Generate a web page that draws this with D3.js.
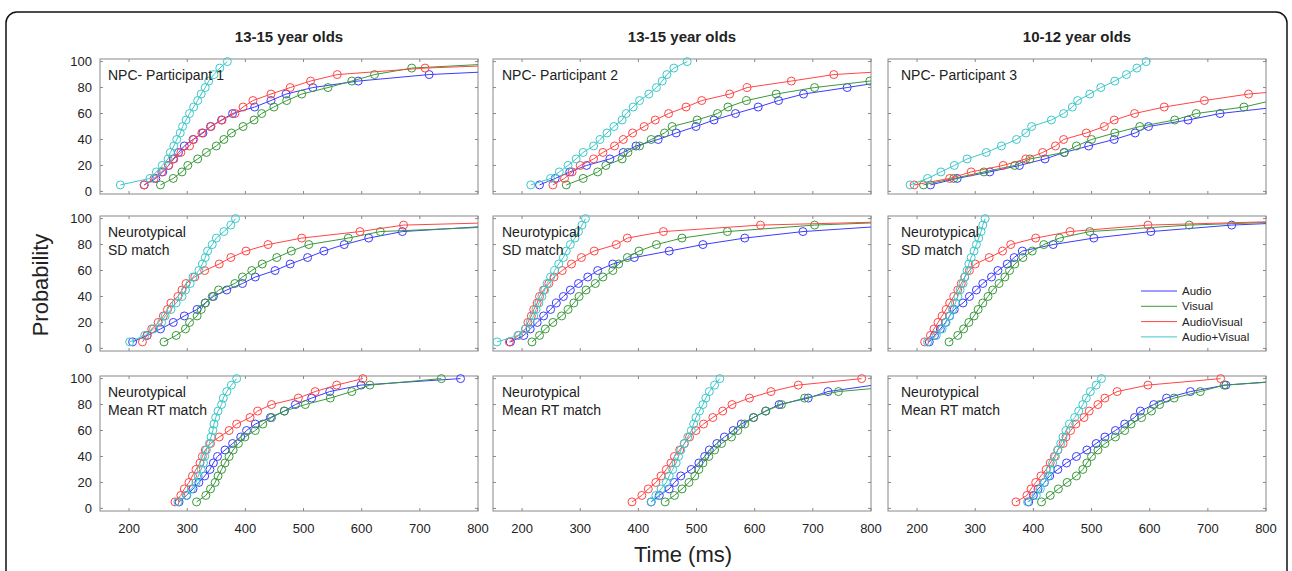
<!DOCTYPE html>
<html>
<head>
<meta charset="utf-8">
<script src="https://cdn.jsdelivr.net/npm/d3@7"></script>
<style>
  body { margin: 0; background: #fff; }
  svg text { font-family: "Liberation Sans", "Open Sans", sans-serif; fill: #222; }
</style>
</head>
<body>
<svg id="chart" width="1292" height="571"></svg>
<script>
'use strict';

// probability levels of each cumulative curve (%)
const probs = [5, 10, 15, 20, 25, 30, 35, 40, 45, 50, 55, 60, 65, 70, 75, 80, 85, 90, 95, 100];

const seriesNames = ['Audio', 'Visual', 'AudioVisual', 'Audio+Visual'];
const columnTitles = ['13-15 year olds', '13-15 year olds', '10-12 year olds'];
const rowLabels = [['NPC- Participant 1', 'NPC- Participant 2', 'NPC- Participant 3'],
                   [['Neurotypical', 'SD match']],
                   [['Neurotypical', 'Mean RT match']]];
const xTicks = [200, 300, 400, 500, 600, 700, 800];
const yTicks = [0, 20, 40, 60, 80, 100];

// RT (ms) at each probability level
// row 1 - NPC participants
const npc1Audio   = [226, 246, 258, 268, 276, 285, 295, 310, 327, 340, 359, 378, 416, 444, 470, 516, 594, 716, 950, 1200];
const npc1Visual  = [254, 276, 291, 301, 318, 333, 350, 363, 376, 396, 415, 428, 449, 471, 497, 542, 583, 622, 686, 900];
const npc1AV      = [226, 243, 256, 268, 277, 289, 304, 311, 325, 341, 360, 382, 396, 413, 444, 477, 512, 558, 709, 1000];
const npc1AplusV  = [185, 236, 247, 257, 267, 271, 277, 282, 288, 292, 298, 304, 311, 318, 324, 331, 337, 346, 356, 369];

const npc2Audio   = [230, 257, 282, 311, 351, 374, 396, 434, 465, 499, 530, 567, 606, 641, 684, 759, 830, 920, 1000, 1200];
const npc2Visual  = [276, 305, 330, 344, 372, 382, 402, 422, 445, 458, 501, 536, 554, 586, 637, 703, 798, 900, 1000, 1200];
const npc2AV      = [253, 273, 286, 300, 323, 339, 359, 374, 390, 410, 429, 452, 482, 509, 557, 587, 663, 736, 920, 1100];
const npc2AplusV  = [215, 249, 264, 279, 293, 305, 323, 334, 346, 358, 372, 379, 391, 402, 418, 431, 441, 449, 461, 484];

const npc3Audio   = [223, 269, 325, 376, 420, 453, 495, 539, 575, 598, 666, 721, 820, 900, 1000, 1100, 1200, 1300, 1400, 1500];
const npc3Visual  = [211, 263, 315, 368, 394, 453, 474, 500, 540, 583, 643, 680, 762, 810, 870, 950, 1050, 1150, 1300, 1500];
const npc3AV      = [195, 256, 293, 348, 387, 416, 438, 452, 491, 522, 539, 574, 625, 694, 770, 900, 1000, 1100, 1250, 1500];
const npc3AplusV  = [188, 218, 241, 264, 286, 319, 345, 371, 387, 397, 431, 452, 467, 476, 497, 516, 540, 560, 578, 594];

// row 2 - neurotypical, SD match
const sd1Audio    = [206, 231, 254, 276, 295, 317, 331, 345, 368, 395, 417, 451, 477, 507, 535, 570, 612, 670, 850, 1100];
const sd1Visual   = [260, 281, 297, 304, 317, 324, 331, 343, 354, 382, 395, 411, 429, 454, 479, 509, 577, 632, 900, 1150];
const sd1AV       = [223, 231, 239, 250, 259, 266, 272, 284, 291, 298, 313, 330, 355, 375, 401, 439, 497, 597, 672, 1100];
const sd1AplusV   = [201, 227, 242, 256, 262, 272, 281, 291, 297, 305, 310, 320, 326, 331, 335, 343, 350, 363, 375, 383];

const sd2Audio    = [180, 203, 214, 226, 237, 249, 259, 271, 283, 297, 313, 330, 356, 393, 453, 511, 583, 683, 850, 1100];
const sd2Visual   = [217, 230, 240, 253, 268, 279, 289, 298, 310, 326, 339, 356, 366, 381, 401, 431, 475, 553, 703, 1000];
const sd2AV       = [178, 194, 206, 210, 216, 220, 226, 230, 237, 246, 255, 269, 285, 302, 324, 362, 381, 443, 610, 1050];
const sd2AplusV   = [157, 193, 206, 214, 220, 224, 229, 234, 239, 243, 249, 256, 263, 271, 276, 283, 291, 297, 303, 309];

const sd3Audio    = [221, 230, 240, 249, 256, 264, 279, 290, 302, 313, 328, 339, 355, 367, 381, 434, 504, 602, 741, 1000];
const sd3Visual   = [255, 270, 280, 289, 298, 305, 313, 322, 330, 341, 351, 359, 368, 382, 398, 418, 445, 497, 668, 1000];
const sd3AV       = [213, 223, 229, 236, 243, 250, 256, 263, 270, 276, 282, 290, 300, 324, 347, 361, 404, 463, 597, 1000];
const sd3AplusV   = [218, 233, 243, 250, 256, 261, 266, 270, 274, 279, 282, 286, 289, 293, 298, 302, 306, 310, 313, 317];

// row 3 - neurotypical, mean RT match
const rt1Audio    = [286, 299, 310, 320, 330, 339, 345, 352, 365, 378, 392, 402, 417, 443, 467, 486, 514, 545, 599, 770];
const rt1Visual   = [316, 332, 340, 348, 353, 359, 365, 372, 379, 388, 399, 417, 430, 445, 467, 503, 546, 583, 614, 737];
const rt1AV       = [279, 289, 295, 303, 309, 315, 322, 326, 331, 340, 355, 372, 385, 408, 421, 445, 491, 520, 557, 602];
const rt1AplusV   = [284, 299, 307, 315, 319, 324, 328, 330, 333, 338, 341, 344, 346, 349, 353, 359, 362, 368, 376, 385];

const rt2Audio    = [422, 436, 453, 462, 473, 491, 504, 514, 522, 535, 548, 563, 577, 598, 619, 642, 692, 726, 805, 900];
const rt2Visual   = [446, 462, 475, 487, 497, 504, 511, 521, 531, 543, 560, 571, 583, 598, 619, 646, 686, 744, 870, 950];
const rt2AV       = [389, 406, 417, 430, 439, 448, 456, 462, 471, 479, 488, 499, 512, 528, 545, 561, 591, 628, 675, 784];
const rt2AplusV   = [422, 430, 439, 448, 453, 459, 465, 469, 473, 479, 485, 491, 495, 499, 505, 511, 516, 522, 531, 540];

const rt3Audio    = [392, 400, 408, 419, 428, 442, 457, 474, 492, 508, 523, 541, 557, 574, 584, 607, 629, 670, 731, 880];
const rt3Visual   = [414, 429, 443, 458, 474, 485, 492, 500, 511, 523, 541, 557, 568, 586, 603, 617, 642, 687, 728, 900];
const rt3AV       = [370, 389, 396, 404, 413, 422, 429, 436, 442, 451, 456, 464, 473, 487, 496, 511, 523, 544, 597, 722];
const rt3AplusV   = [390, 405, 412, 419, 425, 429, 433, 438, 442, 447, 451, 456, 462, 471, 478, 485, 491, 498, 508, 517];

const panels = [
    [npc1Audio, npc1Visual, npc1AV, npc1AplusV],
    [npc2Audio, npc2Visual, npc2AV, npc2AplusV],
    [npc3Audio, npc3Visual, npc3AV, npc3AplusV],
    [sd1Audio, sd1Visual, sd1AV, sd1AplusV],
    [sd2Audio, sd2Visual, sd2AV, sd2AplusV],
    [sd3Audio, sd3Visual, sd3AV, sd3AplusV],
    [rt1Audio, rt1Visual, rt1AV, rt1AplusV],
    [rt2Audio, rt2Visual, rt2AV, rt2AplusV],
    [rt3Audio, rt3Visual, rt3AV, rt3AplusV]
];

const colors = ['#3c3cff', '#3a9a3a', '#ff4646', '#3ec8c8'];

// layout
const colX = [100, 493, 888];
const rowY = [59, 216, 376];
const panelW = 378;
const panelH = 135;
const labelDx = [8, 9, 13];

const svg = d3.select('#chart');

// outer frame
svg.append('rect')
    .attr('x', 6)
    .attr('y', 12)
    .attr('width', 1281)
    .attr('height', 600)
    .attr('rx', 11)
    .attr('fill', 'none')
    .attr('stroke', '#111')
    .attr('stroke-width', 1.5);

const defs = svg.append('defs');

panels.forEach(function(series, i) {
    const row = Math.floor(i / 3);
    const col = i % 3;
    const x0 = colX[col];
    const y0 = rowY[row];

    const x = d3.scaleLinear().domain([150, 800]).range([0, panelW]);
    const y = d3.scaleLinear().domain([-2, 102]).range([panelH, 0]);

    const g = svg.append('g').attr('transform', `translate(${x0},${y0})`);

    defs.append('clipPath')
        .attr('id', 'clip' + i)
        .append('rect')
        .attr('x', 0).attr('y', -6)
        .attr('width', panelW).attr('height', panelH + 12);

    // box
    g.append('rect')
        .attr('width', panelW)
        .attr('height', panelH)
        .attr('fill', '#fff')
        .attr('stroke', '#888')
        .attr('stroke-width', 1);

    // inward ticks on all four sides (matlab style)
    const tickLen = 3;
    xTicks.forEach(function(t) {
        g.append('line').attr('x1', x(t)).attr('x2', x(t)).attr('y1', panelH).attr('y2', panelH - tickLen).attr('stroke', '#888');
        g.append('line').attr('x1', x(t)).attr('x2', x(t)).attr('y1', 0).attr('y2', tickLen).attr('stroke', '#888');
    });
    yTicks.forEach(function(t) {
        g.append('line').attr('x1', 0).attr('x2', tickLen).attr('y1', y(t)).attr('y2', y(t)).attr('stroke', '#888');
        g.append('line').attr('x1', panelW).attr('x2', panelW - tickLen).attr('y1', y(t)).attr('y2', y(t)).attr('stroke', '#888');
    });

    // tick labels only on the outer panels
    if (row === 2) {
        g.selectAll('text.xt')
            .data(xTicks)
            .enter()
            .append('text')
            .attr('class', 'xt')
            .attr('x', d => x(d))
            .attr('y', panelH + 22)
            .attr('text-anchor', 'middle')
            .attr('font-size', '13px')
            .text(d => d);
    }
    if (col === 0) {
        g.selectAll('text.yt')
            .data(yTicks)
            .enter()
            .append('text')
            .attr('class', 'yt')
            .attr('x', -8)
            .attr('y', d => y(d) + 4.5)
            .attr('text-anchor', 'end')
            .attr('font-size', '13px')
            .text(d => d);
    }

    const line = d3.line()
        .x(d => x(d[0]))
        .y(d => y(d[1]));

    const plot = g.append('g').attr('clip-path', `url(#clip${i})`);

    series.forEach(function(times, s) {
        const pts = times.map((t, k) => [t, probs[k]]);
        plot.append('path')
            .datum(pts)
            .attr('d', line)
            .attr('fill', 'none')
            .attr('stroke', colors[s])
            .attr('stroke-width', 1);
        plot.selectAll(null)
            .data(pts.filter(p => p[0] <= 800))
            .enter()
            .append('circle')
            .attr('cx', d => x(d[0]))
            .attr('cy', d => y(d[1]))
            .attr('r', 4)
            .attr('fill', 'none')
            .attr('stroke', colors[s])
            .attr('stroke-width', 1);
    });

    // panel label
    let label = row === 0 ? rowLabels[0][col] : rowLabels[row][0];
    if (!Array.isArray(label)) label = [label];
    label.forEach(function(txt, k) {
        g.append('text')
            .attr('x', labelDx[col])
            .attr('y', 21 + k * 18)
            .attr('font-size', '14px')
            .text(txt);
    });

    // column title
    if (row === 0) {
        svg.append('text')
            .attr('x', x0 + panelW / 2)
            .attr('y', 42)
            .attr('text-anchor', 'middle')
            .attr('font-size', '15px')
            .attr('font-weight', 'bold')
            .text(columnTitles[col]);
    }

    // legend lives in the middle-right panel
    if (row === 1 && col === 2) {
        const lg = g.append('g').attr('transform', 'translate(253,75)');
        seriesNames.forEach(function(name, s) {
            lg.append('line')
                .attr('x1', 0).attr('x2', 36)
                .attr('y1', s * 15.3).attr('y2', s * 15.3)
                .attr('stroke', colors[s]);
            lg.append('text')
                .attr('x', 41)
                .attr('y', s * 15.3 + 4)
                .attr('font-size', '11.5px')
                .text(name);
        });
    }
});

// axis titles
svg.append('text')
    .attr('transform', 'translate(48,285) rotate(-90)')
    .attr('text-anchor', 'middle')
    .attr('font-size', '22px')
    .text('Probability');

svg.append('text')
    .attr('x', 683)
    .attr('y', 562)
    .attr('text-anchor', 'middle')
    .attr('font-size', '22px')
    .text('Time (ms)');
</script>
</body>
</html>
